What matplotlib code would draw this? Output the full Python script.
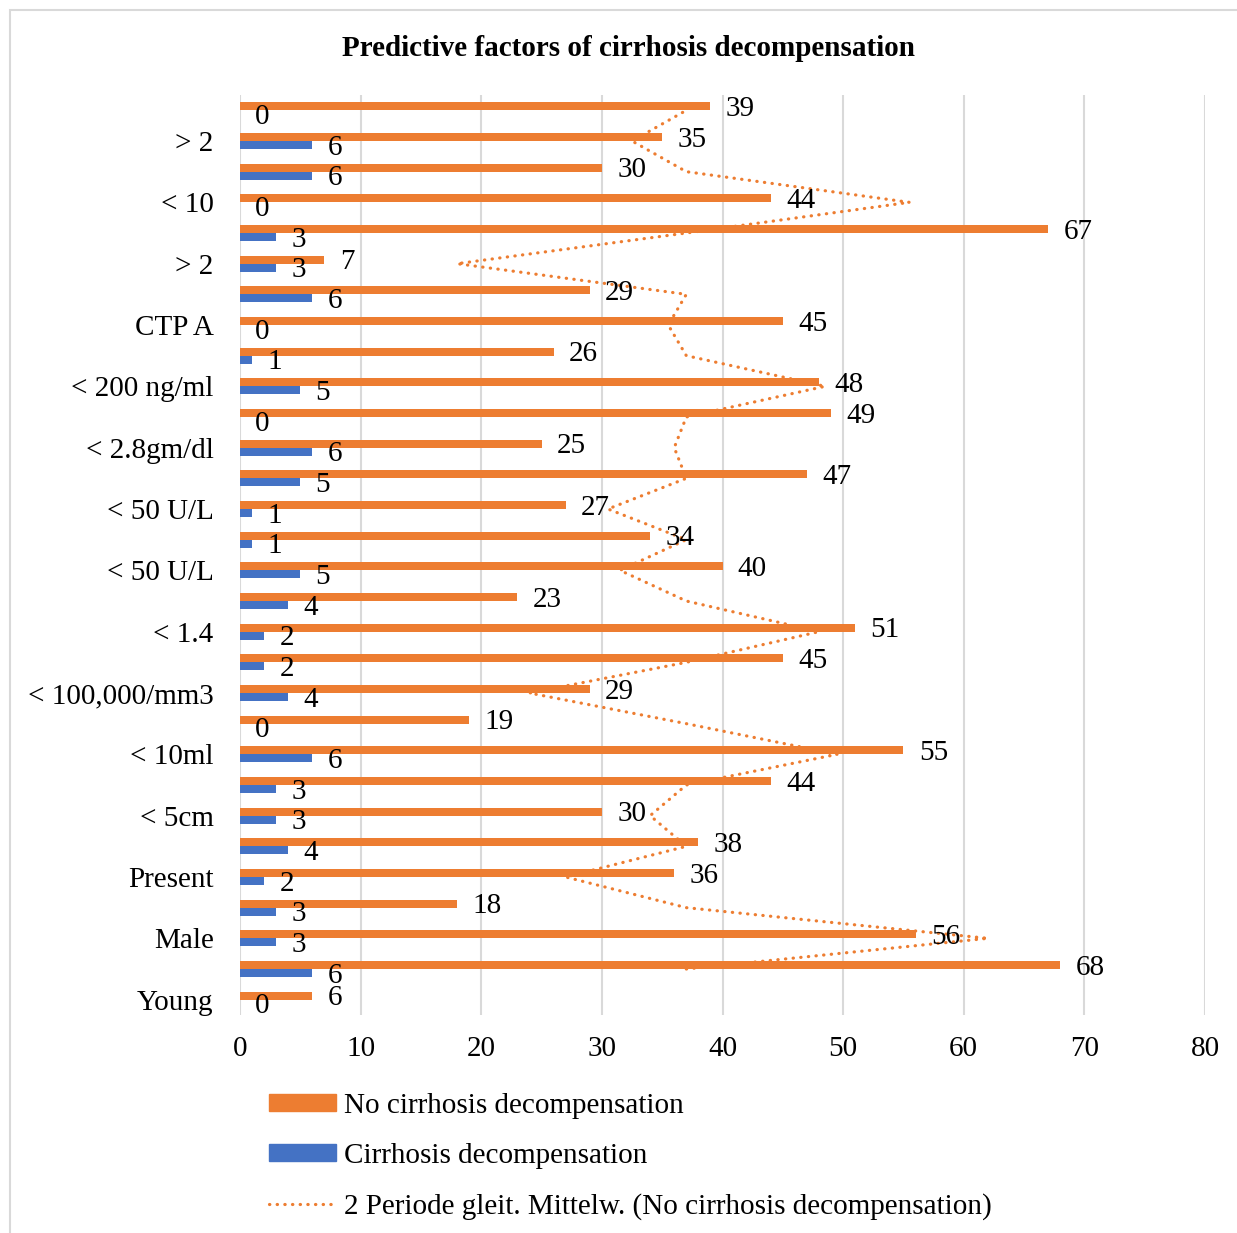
import numpy as np
import pandas as pd
import matplotlib
matplotlib.use("Agg")
import matplotlib.pyplot as plt
from matplotlib.patches import Patch, Rectangle
from matplotlib.lines import Line2D

plt.rcParams['font.family'] = ['Liberation Serif', 'DejaVu Serif']

# categories from bottom to top (only every other one is labelled in the chart)
categories = ["Young", "", "Male", "", "Present", "", "< 5cm", "", "< 10ml", "",
              "< 100,000/mm3", "", "< 1.4", "", "< 50 U/L", "", "< 50 U/L", "",
              "< 2.8gm/dl", "", "< 200 ng/ml", "", "CTP A", "", "> 2", "",
              "< 10", "", "> 2", ""]

no_decomp = [6, 68, 56, 18, 36, 38, 30, 44, 55, 19, 29, 45, 51, 23, 40,
             34, 27, 47, 25, 49, 48, 26, 45, 29, 7, 67, 44, 30, 35, 39]
decomp = [0, 6, 3, 3, 2, 4, 3, 3, 6, 0, 4, 2, 2, 4, 5,
          1, 1, 5, 6, 0, 5, 1, 0, 6, 3, 3, 0, 6, 6, 0]

ORANGE = "#ED7D31"
BLUE = "#4472C4"
GRID = "#D9D9D9"
FS = 21

W, H = 1237, 1233
fig = plt.figure(figsize=(W / 100, H / 100), dpi=100)
ax = fig.add_axes([240 / W, 1 - 1015 / H, 965 / W, 920 / H])

y = np.arange(len(categories))
h = 0.26
ax.barh(y + h / 2, no_decomp, height=h, color=ORANGE)
ax.barh(y - h / 2, decomp, height=h, color=BLUE)

# value labels just right of each bar end
for yy, v in zip(y + h / 2, no_decomp):
    ax.annotate(str(v), (v, yy), xytext=(11, -2), textcoords="offset points",
                ha="left", va="center", fontsize=FS)
for yy, v in zip(y - h / 2, decomp):
    ax.annotate(str(v), (v, yy), xytext=(11, -2), textcoords="offset points",
                ha="left", va="center", fontsize=FS)

# Excel-style 2 period moving average trendline of the orange series
ma = pd.Series(no_decomp).rolling(2).mean()
dotted = dict(color=ORANGE, lw=2.3, linestyle=(0, (0.1, 2.3)),
              dash_capstyle="round")
ax.plot(ma, y, **dotted)

ax.set_xlim(0, 80)
ax.set_ylim(-0.5, len(categories) - 0.5)
ax.set_xticks(range(0, 81, 10))
ax.set_yticks(y, categories)
ax.tick_params(axis="x", length=0, pad=15, labelsize=FS)
ax.tick_params(axis="y", length=0, pad=19, labelsize=FS)
for s in ax.spines.values():
    s.set_visible(False)
ax.xaxis.grid(True, color=GRID, lw=1.5)
ax.set_axisbelow(True)

fig.text(629 / W, 1 - 49 / H, "Predictive factors of cirrhosis decompensation",
         ha="center", va="center", fontsize=FS, fontweight="bold")

handles = [Patch(color=ORANGE), Patch(color=BLUE), Line2D([], [], **dotted)]
labels = ["No cirrhosis decompensation", "Cirrhosis decompensation",
          "2 Periode gleit. Mittelw. (No cirrhosis decompensation)"]
fig.legend(handles, labels, loc="upper left",
           bbox_to_anchor=(269 / W, 1 - 1093 / H), frameon=False, fontsize=FS,
           handlelength=2.3, handleheight=0.5, handletextpad=0.27,
           labelspacing=0.82, borderpad=0, borderaxespad=0)

# light outer chart border (runs off the right and bottom edges)
fig.patches.append(Rectangle((10 / W, -0.05), 1.2, 1 - 10 / H + 0.05,
                             transform=fig.transFigure, fill=False,
                             edgecolor=GRID, lw=1.5))

fig.savefig("out.png", dpi=100)
